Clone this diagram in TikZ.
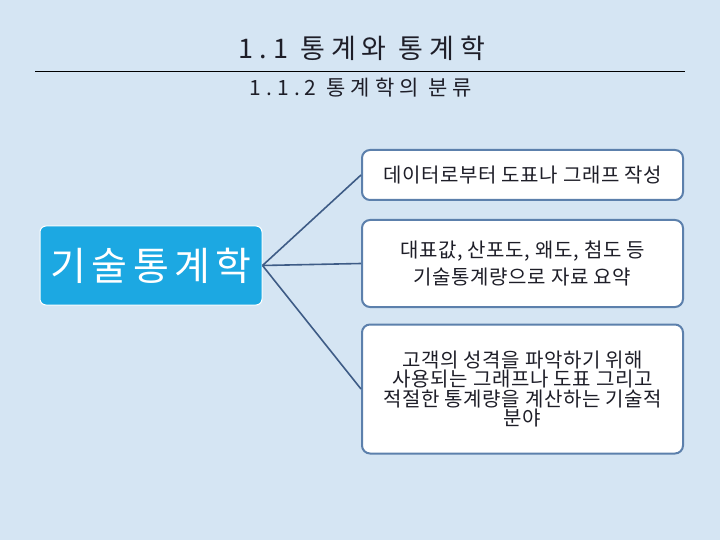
\documentclass[tikz,border=0pt]{standalone}
\usepackage{fontspec}
\setmainfont{Noto Sans CJK KR}[LetterSpace=3]
\newfontfamily\titlefont{Noto Sans CJK KR}[LetterSpace=22]
\newfontfamily\subtitlefont{Noto Sans CJK KR}[LetterSpace=24]
\newfontfamily\mainfont{Noto Sans CJK KR}[LetterSpace=14]
\begin{document}
\begin{tikzpicture}[x=1pt,y=-1pt,
  mainbox/.style={draw=white,line width=1pt,fill=maincyan,rounded corners=6pt,text=white,minimum width=222pt,minimum height=79pt,font=\mainfont\fontsize{39}{42}\selectfont,inner sep=0pt},
  subbox/.style={draw=boxedge,line width=2pt,fill=white,rounded corners=8pt,minimum width=321pt,text=textdark,align=center,font=\fontsize{20}{27}\selectfont,inner sep=0pt},
  conn/.style={draw=connblue,line width=1.6pt}
]
\definecolor{bgblue}{HTML}{D5E5F3}
\definecolor{maincyan}{HTML}{1CA8E2}
\definecolor{boxedge}{HTML}{5C80AC}
\definecolor{textdark}{HTML}{1E1E28}
\definecolor{connblue}{HTML}{3E5C86}
\useasboundingbox (0,0) rectangle (720,540);
\fill[bgblue] (0,0) rectangle (720,540);
\node[font=\titlefont\fontsize{27}{30}\selectfont,text=textdark] (title) at (362,48) {1.1 통계와 통계학};
\draw[line width=1pt,black] (35,72) -- (685,72);
\node[font=\subtitlefont\fontsize{21}{22}\selectfont,text=textdark] (subtitle) at (361,88) {1.1.2 통계학의 분류};
\node[mainbox] (main) at (151,265.5) {기술통계학};
\node[subbox,minimum height=50pt] (b1) at (522.5,175) {데이터로부터 도표나 그래프 작성};
\node[subbox,minimum height=87pt] (b2) at (522.5,263.5) {대표값, 산포도, 왜도, 첨도 등\\기술통계량으로 자료 요약};
\node[subbox,minimum height=129pt,font=\fontsize{20}{19.5}\selectfont] (b3) at (522.5,389) {고객의 성격을 파악하기 위해\\사용되는 그래프나 도표 그리고\\적절한 통계량을 계산하는 기술적\\분야};
\draw[conn] (main.east) -- (b1.west);
\draw[conn] (main.east) -- (b2.west);
\draw[conn] (main.east) -- (b3.west);
\end{tikzpicture}
\end{document}
